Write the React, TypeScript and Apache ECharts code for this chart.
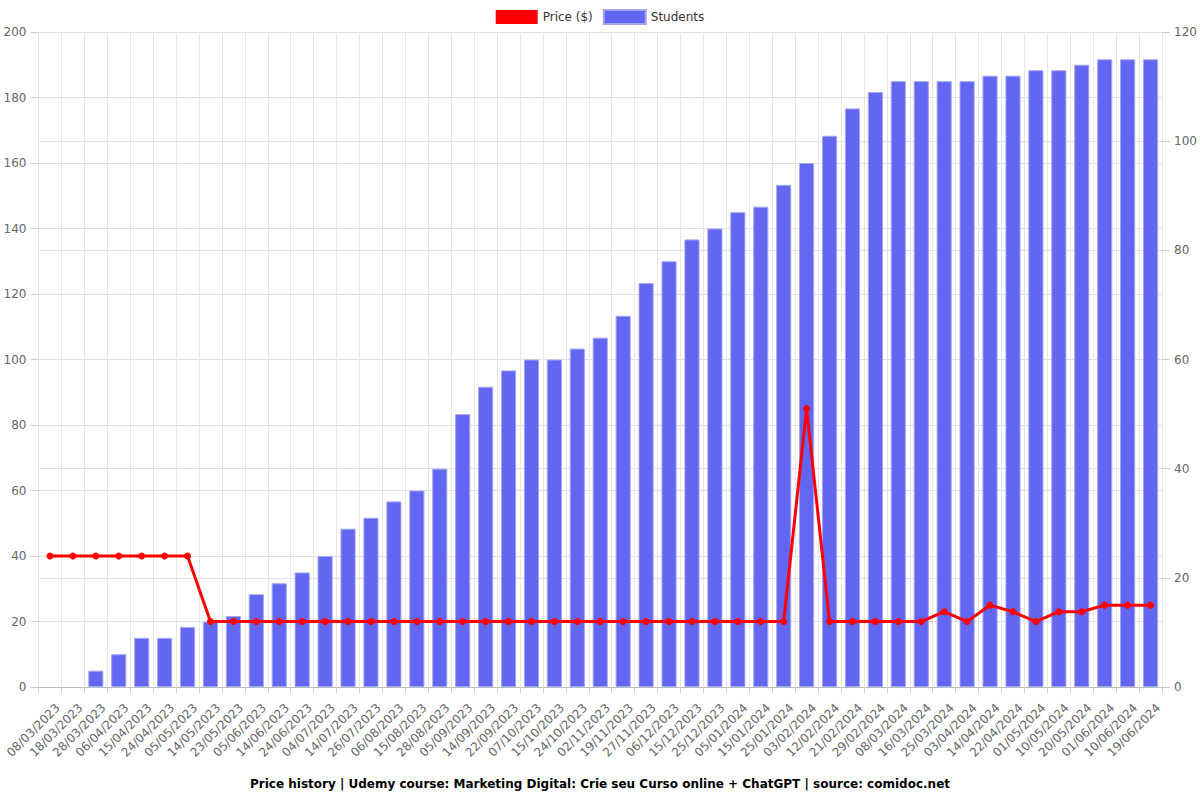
import React, { useEffect, useRef } from "react";
import * as echarts from "echarts";

const dates = [
  "08/03/2023", "18/03/2023", "28/03/2023", "06/04/2023", "15/04/2023", "24/04/2023", "05/05/2023",
  "14/05/2023", "23/05/2023", "05/06/2023", "14/06/2023", "24/06/2023", "04/07/2023", "14/07/2023",
  "26/07/2023", "06/08/2023", "15/08/2023", "28/08/2023", "05/09/2023", "14/09/2023", "22/09/2023",
  "07/10/2023", "15/10/2023", "24/10/2023", "02/11/2023", "19/11/2023", "27/11/2023", "06/12/2023",
  "15/12/2023", "25/12/2023", "05/01/2024", "15/01/2024", "25/01/2024", "03/02/2024", "12/02/2024",
  "21/02/2024", "29/02/2024", "08/03/2024", "16/03/2024", "25/03/2024", "03/04/2024", "14/04/2024",
  "22/04/2024", "01/05/2024", "10/05/2024", "20/05/2024", "01/06/2024", "10/06/2024", "19/06/2024",
];

const price = [
  39.99, 39.99, 39.99, 39.99, 39.99, 39.99, 39.99,
  19.99, 19.99, 19.99, 19.99, 19.99, 19.99, 19.99,
  19.99, 19.99, 19.99, 19.99, 19.99, 19.99, 19.99,
  19.99, 19.99, 19.99, 19.99, 19.99, 19.99, 19.99,
  19.99, 19.99, 19.99, 19.99, 19.99, 84.99, 19.99,
  19.99, 19.99, 19.99, 19.99, 22.99, 19.99, 24.99,
  22.99, 19.99, 22.99, 22.99, 24.99, 24.99, 24.99,
];

const students = [
  0, 0, 3, 6, 9, 9, 11,
  12, 13, 17, 19, 21, 24, 29,
  31, 34, 36, 40, 50, 55, 58,
  60, 60, 62, 64, 68, 74, 78,
  82, 84, 87, 88, 92, 96, 101,
  106, 109, 111, 111, 111, 111, 112,
  112, 113, 113, 114, 115, 115, 115,
];

const titleText =
  "Price history | Udemy course: Marketing Digital: Crie seu Curso online + ChatGPT | source: comidoc.net";

const FONT = "DejaVu Sans";

export default function App() {
  const ref = useRef<HTMLDivElement>(null);
  useEffect(() => {
    if (!ref.current) return;
    const chart = echarts.init(ref.current, undefined, { renderer: "svg" });
    const yCommon = {
      type: "value",
      axisLine: { show: false },
      axisTick: { show: true, length: 8, lineStyle: { color: "#cccccc" } },
      splitLine: { show: true, lineStyle: { color: "#e0e0e0" } },
      axisLabel: { color: "#666", fontSize: 12, fontFamily: FONT, margin: 12 },
    };
    chart.setOption({
      animation: false,
      textStyle: { fontFamily: FONT },
      title: {
        text: titleText,
        left: "center",
        top: 773,
        textStyle: { fontFamily: FONT, fontSize: 12, fontWeight: "bold", color: "#000" },
      },
      legend: {
        top: 4,
        left: "center",
        itemWidth: 42,
        itemHeight: 14,
        itemGap: 10,
        textStyle: { fontFamily: FONT, fontSize: 12, color: "#333" },
        data: [
          { name: "Price ($)", icon: "rect", itemStyle: { color: "#ff0000" } },
          { name: "Students", icon: "rect", itemStyle: { color: "#6366f1" } },
        ],
      },
      grid: { left: 38.5, right: 38, top: 32, bottom: 113, containLabel: false, outerBoundsMode: "none" },
      xAxis: {
        type: "category",
        data: dates,
        boundaryGap: true,
        axisLine: { show: true, lineStyle: { color: "#bbbbbb" } },
        axisTick: { show: true, length: 6, lineStyle: { color: "#cccccc" } },
        splitLine: { show: true, lineStyle: { color: "#e6e6e6" } },
        axisLabel: {
          rotate: 45,
          interval: 0,
          color: "#666",
          fontSize: 12,
          fontFamily: FONT,
          margin: 11,
          verticalAlign: "top",
          lineHeight: 22,
        },
      },
      yAxis: [
        { ...yCommon, min: 0, max: 200, interval: 20, position: "left" },
        { ...yCommon, min: 0, max: 120, interval: 20, position: "right" },
      ],
      series: [
        {
          name: "Price ($)",
          type: "line",
          yAxisIndex: 0,
          data: price,
          z: 3,
          symbol: "circle",
          symbolSize: 7,
          lineStyle: { color: "#ff0000", width: 3 },
          itemStyle: { color: "#ff0000" },
        },
        {
          name: "Students",
          type: "bar",
          yAxisIndex: 1,
          data: students.map((v) => (v === 0 ? { value: v, itemStyle: { borderWidth: 0 } } : v)),
          barWidth: "66%",
          z: 2,
          itemStyle: { color: "#6366f1", borderColor: "#a3a5f5", borderWidth: 1 },
        },
      ],
    });
    return () => chart.dispose();
  }, []);
  return <div ref={ref} style={{ width: 1200, height: 800, position: "absolute", left: 0, top: 0 }} />;
}
